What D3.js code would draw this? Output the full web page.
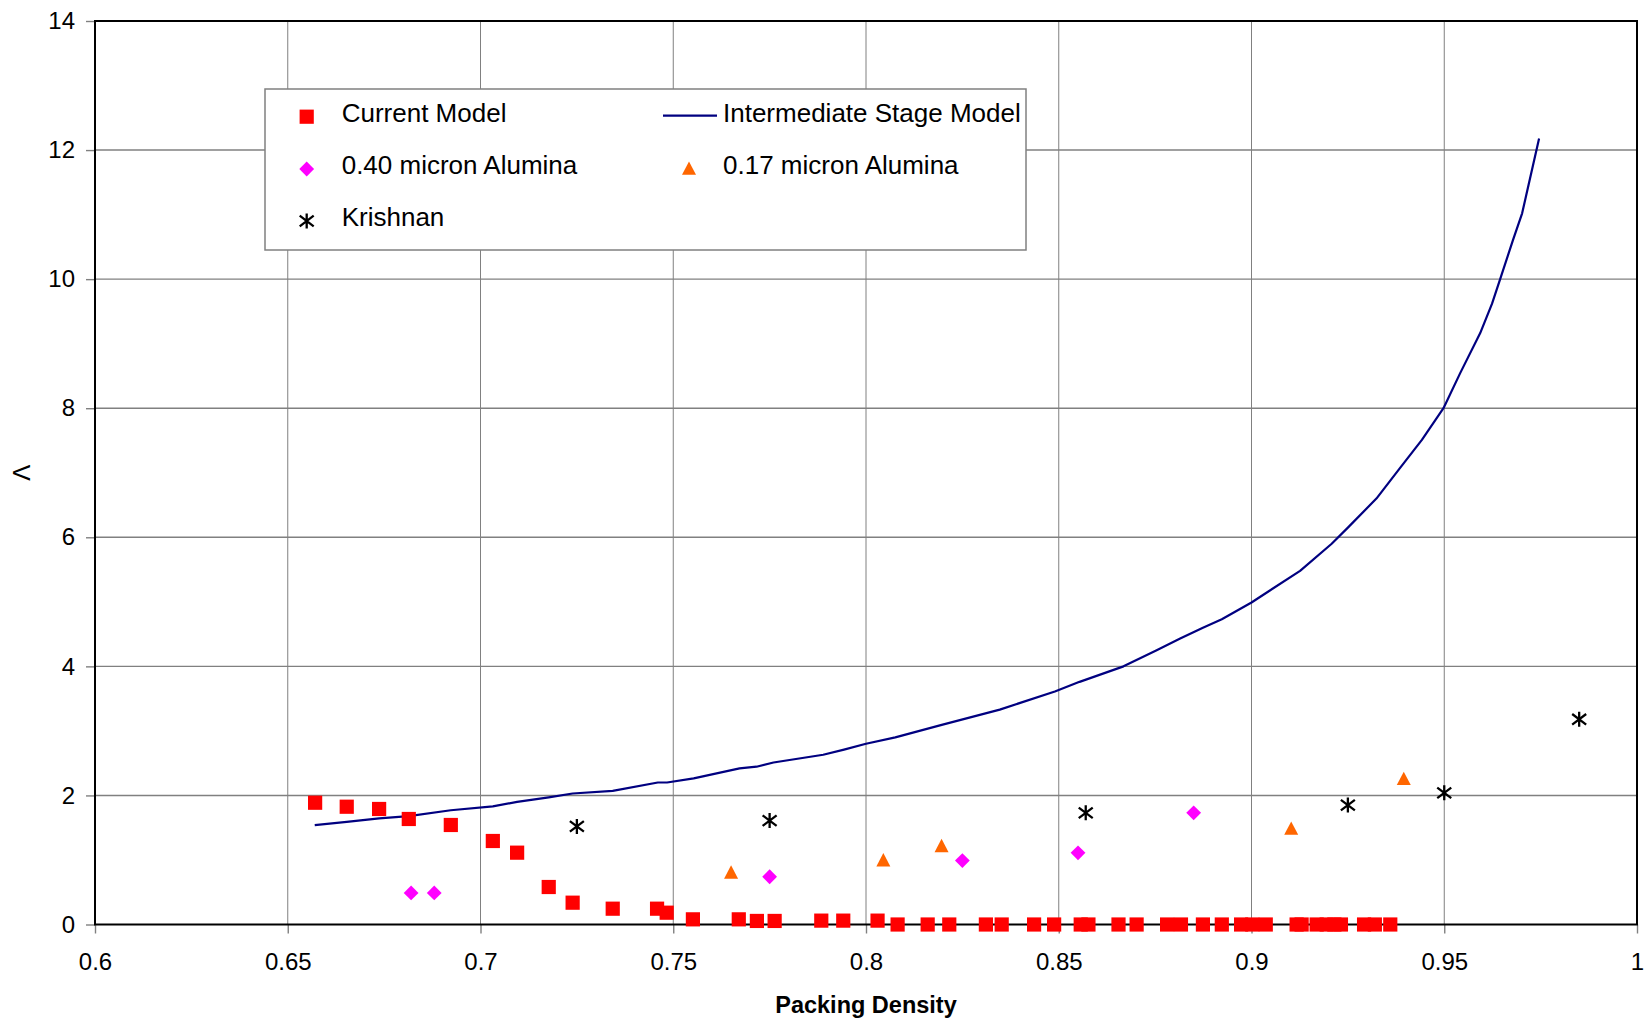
<!DOCTYPE html>
<html>
<head>
<meta charset="utf-8">
<script src="https://cdn.jsdelivr.net/npm/d3@7/dist/d3.min.js"></script>
<style>
  html, body { margin: 0; padding: 0; background: #ffffff; }
  svg { display: block; font-family: "Liberation Sans", Arial, sans-serif; }
</style>
</head>
<body>
<svg id="chart" width="1650" height="1023"></svg>
<script>
// Axis ticks
const xTicks = [0.6, 0.65, 0.7, 0.75, 0.8, 0.85, 0.9, 0.95, 1.0];
const yTicks = [0, 2, 4, 6, 8, 10, 12, 14];

// Current Model
const currentX = [0.6571, 0.6653, 0.6737, 0.6814, 0.6923, 0.7032, 0.7095, 0.7177, 0.7239, 0.7343,
                  0.7458, 0.7483, 0.7551, 0.767, 0.7717, 0.7763, 0.7884, 0.7941, 0.803, 0.8082,
                  0.816, 0.8216, 0.8311, 0.8352, 0.8436, 0.8488, 0.8557, 0.8577, 0.8655, 0.8702,
                  0.8781, 0.8817, 0.8874, 0.8923, 0.8973, 0.9002, 0.9037, 0.9117, 0.913, 0.9169,
                  0.9195, 0.9215, 0.9232, 0.9292, 0.932, 0.936];
const currentY = [1.887, 1.825, 1.79, 1.635, 1.542, 1.294, 1.113, 0.581, 0.338, 0.245,
                  0.245, 0.183, 0.08, 0.08, 0.055, 0.055, 0.06, 0.06, 0.06, 0,
                  0, 0, 0, 0, 0, 0, 0, 0, 0, 0,
                  0, 0, 0, 0, 0, 0, 0, 0, 0, 0,
                  0, 0, 0, 0, 0, 0];

// Intermediate Stage Model
const stageX = [0.657, 0.6653, 0.6737, 0.6814, 0.6923, 0.7032, 0.7095, 0.7177, 0.7239, 0.7343,
                0.746, 0.7484, 0.7553, 0.7672, 0.7716, 0.776, 0.7889, 0.7943, 0.8, 0.8076,
                0.8194, 0.8347, 0.849, 0.8554, 0.8668, 0.8754, 0.8815, 0.8874, 0.8923, 0.9,
                0.9126, 0.9208, 0.925, 0.9324, 0.9386, 0.9442, 0.9498, 0.9541, 0.9593, 0.9624,
                0.9645, 0.9678, 0.9702, 0.9746];
const stageY = [1.54, 1.59, 1.645, 1.68, 1.77, 1.83, 1.9, 1.97, 2.03, 2.07,
                2.2, 2.2, 2.265, 2.42, 2.445, 2.51, 2.63, 2.71, 2.8, 2.9,
                3.09, 3.33, 3.61, 3.76, 4.0, 4.25, 4.43, 4.6, 4.73, 4.99,
                5.48, 5.9, 6.15, 6.6, 7.08, 7.51, 8.0, 8.54, 9.16, 9.62,
                10.0, 10.6, 11.02, 12.18];

// 0.40 micron Alumina
const alumina40X = [0.682, 0.688, 0.775, 0.825, 0.855, 0.885];
const alumina40Y = [0.49, 0.49, 0.74, 0.99, 1.11, 1.73];

// 0.17 micron Alumina
const alumina17X = [0.765, 0.8045, 0.8196, 0.9103, 0.9395];
const alumina17Y = [0.80, 0.99, 1.21, 1.48, 2.25];

// Krishnan
const krishnanX = [0.725, 0.775, 0.857, 0.925, 0.95, 0.985];
const krishnanY = [1.52, 1.61, 1.73, 1.85, 2.04, 3.18];

const seriesNames = ["Current Model", "Intermediate Stage Model", "0.40 micron Alumina",
                     "0.17 micron Alumina", "Krishnan"];

const zip = (xs, ys) => xs.map((v, i) => ({ x: v, y: ys[i] }));

const svg = d3.select("#chart");
svg.append("rect").attr("width", 1650).attr("height", 1023).attr("fill", "#ffffff");

const plot = { left: 95, right: 1637, top: 21, bottom: 924.5 };
const x = d3.scaleLinear().domain([0.6, 1.0]).range([plot.left, plot.right]);
const y = d3.scaleLinear().domain([0, 14]).range([plot.bottom, plot.top]);

// Gridlines
const grid = svg.append("g");
grid.selectAll("line.gx").data(xTicks.slice(1, -1)).join("line")
  .attr("x1", d => x(d)).attr("x2", d => x(d))
  .attr("y1", plot.top).attr("y2", plot.bottom)
  .attr("stroke", "#808080").attr("stroke-width", 1);
grid.selectAll("line.gy").data(yTicks.slice(1, -1)).join("line")
  .attr("x1", plot.left).attr("x2", plot.right)
  .attr("y1", d => y(d)).attr("y2", d => y(d))
  .attr("stroke", "#808080").attr("stroke-width", 1.4);

// Axes
const fmt = d => String(+d.toFixed(2));
const xAxis = svg.append("g").attr("transform", `translate(0,${plot.bottom})`)
  .call(d3.axisBottom(x).tickValues(xTicks).tickFormat(fmt).tickSize(9).tickPadding(19));
const yAxis = svg.append("g").attr("transform", `translate(${plot.left},0)`)
  .call(d3.axisLeft(y).tickValues(yTicks).tickFormat(d3.format("d")).tickSize(9).tickPadding(11));
[xAxis, yAxis].forEach(a => {
  a.select(".domain").remove();
  a.selectAll(".tick line").attr("stroke", "#808080").attr("stroke-width", 1.4);
  a.selectAll(".tick text").attr("fill", "#000").style("font-size", "24px")
    .style("font-family", "'Liberation Sans', Arial, sans-serif");
});

// Plot border
svg.append("rect")
  .attr("x", plot.left).attr("y", plot.top)
  .attr("width", plot.right - plot.left).attr("height", plot.bottom - plot.top)
  .attr("fill", "none").attr("stroke", "#000").attr("stroke-width", 2);

// Axis titles
svg.append("text")
  .attr("x", (plot.left + plot.right) / 2).attr("y", 1013)
  .attr("text-anchor", "middle").attr("font-weight", "bold").attr("font-size", 23.5)
  .text("Packing Density");
svg.append("text")
  .attr("transform", `translate(30,${(plot.top + plot.bottom) / 2}) rotate(-90)`)
  .attr("text-anchor", "middle").attr("font-size", 24)
  .text("Λ");

// Marker shapes
const squarePath = "M-7.1,-7.1H7.1V7.1H-7.1Z";
const diamondPath = "M0,-7.4L7.4,0L0,7.4L-7.4,0Z";
const trianglePath = "M0,-7.6L7,5.8L-7,5.8Z";
const asteriskPath = "M0,-7.5V7.5M-7,-5.3L7,5.3M-7,5.3L7,-5.3";

// Intermediate Stage Model curve
const line = d3.line().x(d => x(d.x)).y(d => y(d.y));
svg.append("path").datum(zip(stageX, stageY))
  .attr("d", line).attr("fill", "none")
  .attr("stroke", "#000080").attr("stroke-width", 2.2).attr("stroke-linejoin", "round");

function markers(data, path, fill, stroke) {
  svg.append("g").selectAll("path").data(data).join("path")
    .attr("transform", d => `translate(${x(d.x)},${y(d.y)})`)
    .attr("d", path)
    .attr("fill", fill)
    .attr("stroke", stroke || "none")
    .attr("stroke-width", stroke ? 2.3 : 0);
}
markers(zip(alumina40X, alumina40Y), diamondPath, "#FF00FF");
markers(zip(alumina17X, alumina17Y), trianglePath, "#FF6600");
markers(zip(krishnanX, krishnanY), asteriskPath, "none", "#000");
markers(zip(currentX, currentY), squarePath, "#FF0000");

// Legend
const lg = svg.append("g");
lg.append("rect").attr("x", 265).attr("y", 89).attr("width", 761).attr("height", 161)
  .attr("fill", "#ffffff").attr("stroke", "#808080").attr("stroke-width", 1.5);
const rows = [116.7, 169, 221];
const legendItems = [
  { name: seriesNames[0], mx: 306.7, tx: 341.7, ry: rows[0], path: squarePath, fill: "#FF0000" },
  { name: seriesNames[2], mx: 306.7, tx: 341.7, ry: rows[1], path: diamondPath, fill: "#FF00FF" },
  { name: seriesNames[4], mx: 306.7, tx: 341.7, ry: rows[2], path: asteriskPath, fill: "none", stroke: "#000" },
  { name: seriesNames[3], mx: 689, tx: 723, ry: rows[1], path: trianglePath, fill: "#FF6600" },
  { name: seriesNames[1], mx: null, tx: 723, ry: rows[0], lineItem: true }
];
legendItems.forEach(it => {
  if (it.lineItem) {
    lg.append("line").attr("x1", 663).attr("x2", 717).attr("y1", it.ry - 1).attr("y2", it.ry - 1)
      .attr("stroke", "#000080").attr("stroke-width", 2.2);
  } else {
    lg.append("path").attr("transform", `translate(${it.mx},${it.ry})`).attr("d", it.path)
      .attr("fill", it.fill).attr("stroke", it.stroke || "none").attr("stroke-width", it.stroke ? 2.3 : 0);
  }
  lg.append("text").attr("x", it.tx).attr("y", it.ry + 5).attr("font-size", 26).text(it.name);
});
</script>
</body>
</html>
